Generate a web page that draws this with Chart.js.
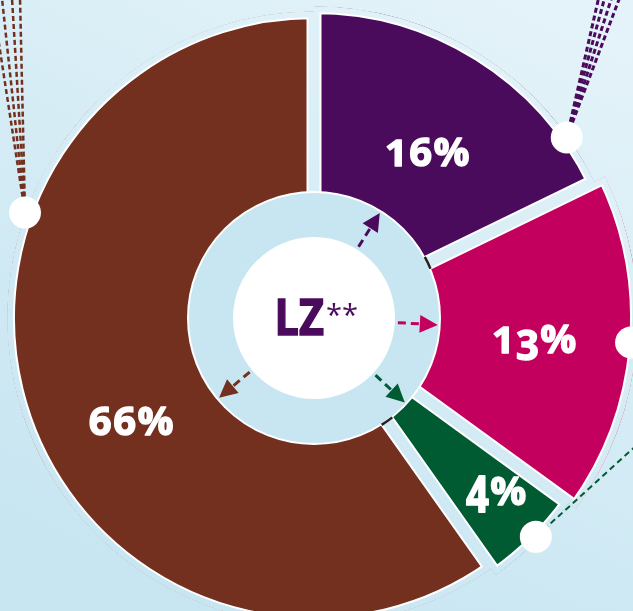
<!DOCTYPE html>
<html><head><meta charset="utf-8">
<script src="https://cdn.jsdelivr.net/npm/chart.js@4.4.1/dist/chart.umd.min.js"></script>
<style>
html,body{margin:0;padding:0;overflow:hidden;width:633px;height:611px;background:#d6ecf5;}
#wrap{position:absolute;left:0;top:0;width:700px;height:700px;}
</style></head><body>
<div id="wrap"><canvas id="c"></canvas></div>
<script>
// ---- data (clockwise from 12 o'clock) ----
const categories = ['Lila', 'Magenta', 'Grün', 'Braun'];
const arcShares = [17.8, 17.2, 5.2, 59.8];      // slice sizes as drawn
const shownPercents = [16, 13, 4, 66];          // printed labels
const centerMain = 'LZ';
const centerMark = '**';

// ---- styling ----
const sliceColors = ['#4b0b5d', '#c4005e', '#005a32', '#74301f'];
const visibleOuter = [306, 318, 309, 301];
const labelAt = [[0.535, 201], [0.506, 221], [0.40, 251], [0.445, 210]];
const arrowAt = [0.5, 0.47, 0.37, 0.396];
const dotAt = [[0.85, 310.6], [0.49, 318], [0.46, 311.6], [0.675, 307.6]];
const leaderLines = [
  {w: 3, dash: [5, 3], ends: [[32, -140], [38, -140], [45, -140], [53, -140]]},
  {w: 2, dash: [5, 3], ends: []},
  {w: 2, dash: [6, 4], ends: [[110, -100]]},
  {w: 2.5, dash: [5, 3], ends: [[-33, -214], [-23, -214], [-13, -214], [-5, -214]]}
];
const GAP = 5.5, EDGE = 2, RING_R = 126, HOLE_R = 81;
const tickAfter = [0, 2];

let bgGrad = null;
function makeBg(ctx) {
  const g = ctx.createLinearGradient(520, 0, 230, 611);
  g.addColorStop(0, '#e4f3f9');
  g.addColorStop(0.55, '#d3ebf5');
  g.addColorStop(1, '#c8e6f2');
  return g;
}

const shapePlugin = {
  id: 'shape',
  beforeDraw(chart) {
    const ctx = chart.ctx;
    bgGrad = makeBg(ctx);
    ctx.save();
    ctx.fillStyle = bgGrad;
    ctx.fillRect(0, 0, chart.width, chart.height);
    ctx.restore();
  },
  afterDatasetsUpdate(chart) {
    const meta = chart.getDatasetMeta(0);
    meta.data.forEach((el, i) => {
      el.outerRadius = visibleOuter[i] + GAP;
      el.innerRadius = 100;
    });
  },
  afterDatasetsDraw(chart) {
    const ctx = chart.ctx;
    const els = chart.getDatasetMeta(0).data;
    const cx = els[0].x, cy = els[0].y;
    const P = (a, r) => [cx + Math.cos(a) * r, cy + Math.sin(a) * r];
    const ang = (el, f) => el.startAngle + f * (el.endAngle - el.startAngle);

    // trim slices: white edge + background gap
    els.forEach(el => {
      ctx.save();
      ctx.beginPath();
      ctx.arc(el.x, el.y, el.outerRadius, el.startAngle, el.endAngle);
      ctx.arc(el.x, el.y, el.innerRadius, el.endAngle, el.startAngle, true);
      ctx.closePath();
      ctx.clip();
      ctx.lineJoin = 'miter';
      ctx.lineWidth = 2 * (GAP + EDGE); ctx.strokeStyle = '#ffffff'; ctx.stroke();
      ctx.lineWidth = 2 * GAP; ctx.strokeStyle = bgGrad; ctx.stroke();
      ctx.restore();
    });

    // ring
    ctx.save();
    ctx.beginPath(); ctx.arc(cx, cy, RING_R, 0, Math.PI * 2);
    ctx.fillStyle = '#c8e6f2'; ctx.fill();
    ctx.lineWidth = 2; ctx.strokeStyle = '#ffffff'; ctx.stroke();
    // dark ticks in some gaps
    ctx.strokeStyle = '#2a2019'; ctx.lineWidth = 2.5;
    tickAfter.forEach(i => {
      const a = els[i].endAngle, d = (GAP + 1) / RING_R;
      ctx.beginPath(); ctx.arc(cx, cy, RING_R + 0.5, a - d, a + d); ctx.stroke();
    });
    // hole
    ctx.beginPath(); ctx.arc(cx, cy, HOLE_R, 0, Math.PI * 2);
    ctx.fillStyle = '#ffffff'; ctx.fill();

    // arrows
    els.forEach((el, i) => {
      const a = ang(el, arrowAt[i]);
      ctx.strokeStyle = sliceColors[i]; ctx.fillStyle = sliceColors[i];
      ctx.lineWidth = 3; ctx.setLineDash([8, 5]);
      const s = P(a, 84), e = P(a, 108);
      ctx.beginPath(); ctx.moveTo(s[0], s[1]); ctx.lineTo(e[0], e[1]); ctx.stroke();
      ctx.setLineDash([]);
      const tip = P(a, 124), b = P(a, 106);
      const nx = -Math.sin(a) * 9, ny = Math.cos(a) * 9;
      ctx.beginPath(); ctx.moveTo(tip[0], tip[1]);
      ctx.lineTo(b[0] + nx, b[1] + ny); ctx.lineTo(b[0] - nx, b[1] - ny);
      ctx.closePath(); ctx.fill();
    });
    ctx.restore();

    // leader lines + dots
    els.forEach((el, i) => {
      const d = P(ang(el, dotAt[i][0]), dotAt[i][1]);
      const L = leaderLines[i];
      ctx.save();
      ctx.strokeStyle = sliceColors[i]; ctx.lineWidth = L.w; ctx.setLineDash(L.dash);
      L.ends.forEach(([dx, dy]) => {
        ctx.beginPath(); ctx.moveTo(d[0], d[1]); ctx.lineTo(d[0] + dx, d[1] + dy); ctx.stroke();
      });
      ctx.restore();
      ctx.beginPath(); ctx.arc(d[0], d[1], 16, 0, Math.PI * 2);
      ctx.fillStyle = '#ffffff'; ctx.fill();
    });

    // percent labels
    els.forEach((el, i) => {
      const p = P(ang(el, labelAt[i][0]), labelAt[i][1]);
      drawPct(ctx, shownPercents[i] + '%', p[0], p[1]);
    });

    // center text
    ctx.save();
    ctx.fillStyle = '#4b0b5d'; ctx.strokeStyle = '#4b0b5d';
    ctx.font = 'bold 50px "Open Sans"';
    const m = ctx.measureText(centerMain);
    const ink = m.actualBoundingBoxLeft + m.actualBoundingBoxRight;
    const sx = 45 / ink;
    ctx.save();
    ctx.translate(cx - 36, cy + 16.5);
    ctx.scale(sx, 1);
    ctx.lineWidth = 1.6; ctx.lineJoin = 'miter';
    ctx.fillText(centerMain, m.actualBoundingBoxLeft, 0);
    ctx.strokeText(centerMain, m.actualBoundingBoxLeft, 0);
    ctx.restore();
    ctx.font = '400 29px "Open Sans"';
    const m2 = ctx.measureText(centerMark);
    ctx.fillText(centerMark, cx + 13 + m2.actualBoundingBoxLeft, cy - 15 + m2.actualBoundingBoxAscent);
    ctx.restore();
  }
};

// old-style looking figures
const glyphAdj = {'1': {dy: 0, sy: 0.9}, '3': {dy: 7, sy: 1.05}, '4': {dy: 7, sy: 1.25}};
function drawPct(ctx, txt, x, y) {
  ctx.save();
  ctx.fillStyle = '#ffffff'; ctx.strokeStyle = '#ffffff';
  ctx.lineWidth = 1.4; ctx.lineJoin = 'round';
  ctx.font = 'bold 40px "Open Sans"';
  ctx.textBaseline = 'alphabetic';
  const track = 1.5;
  const chars = txt.split('');
  const widths = chars.map(c => ctx.measureText(c).width);
  const total = widths.reduce((s, w) => s + w, 0) + track * (chars.length - 1);
  let cxp = x - total / 2;
  const base = y + 14;
  chars.forEach((c, k) => {
    const adj = glyphAdj[c] || {dy: 0, sy: 1};
    ctx.save();
    ctx.translate(cxp, base + adj.dy);
    ctx.scale(1, adj.sy);
    ctx.fillText(c, 0, 0);
    ctx.strokeText(c, 0, 0);
    ctx.restore();
    cxp += widths[k] + track;
  });
  ctx.restore();
}

new Chart(document.getElementById('c'), {
  type: 'doughnut',
  data: {
    labels: categories,
    datasets: [{
      data: arcShares,
      backgroundColor: sliceColors,
      borderWidth: 0,
      clip: false
    }]
  },
  options: {
    responsive: true,
    maintainAspectRatio: false,
    animation: false,
    events: [],
    rotation: 0,
    cutout: '40%',
    layout: {padding: {left: 0, top: 0, right: 72, bottom: 64}},
    plugins: {legend: {display: false}, tooltip: {enabled: false}}
  },
  plugins: [shapePlugin]
});
</script>
</body></html>
